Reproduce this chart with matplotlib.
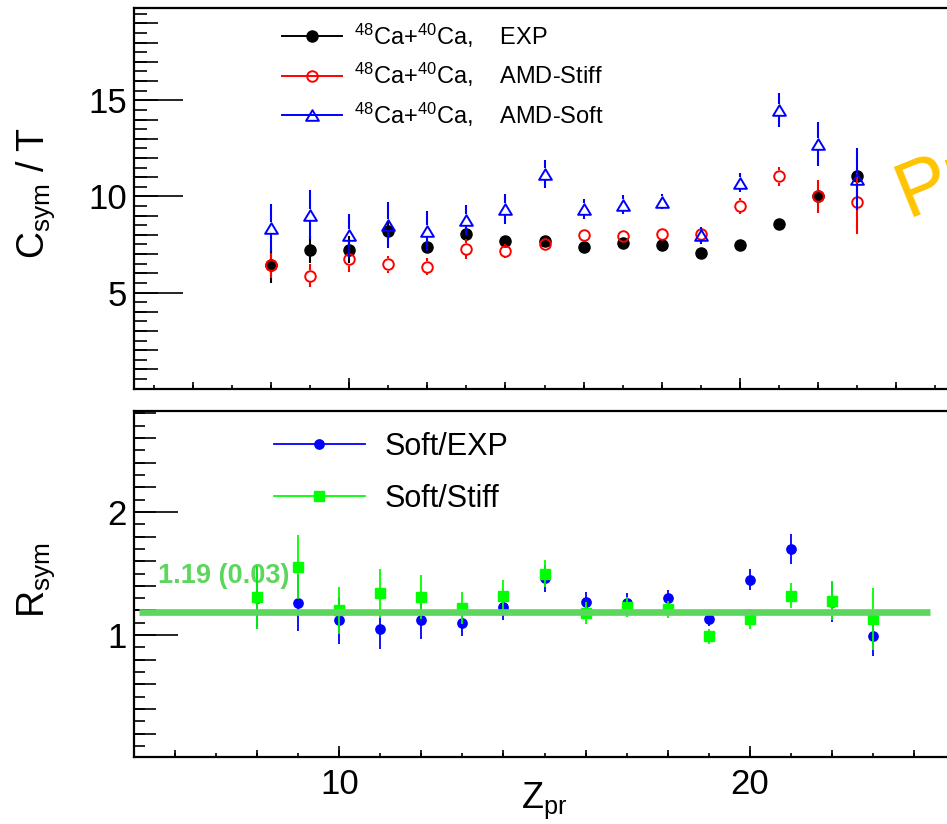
import numpy as np
import matplotlib
matplotlib.use("Agg")
import matplotlib.pyplot as plt
from matplotlib.ticker import MultipleLocator, NullFormatter
from matplotlib.lines import Line2D
from matplotlib.path import Path

plt.rcParams['font.family'] = ['Liberation Sans', 'DejaVu Sans']
plt.rcParams['mathtext.fontset'] = 'custom'
plt.rcParams['mathtext.rm'] = 'Liberation Sans'
plt.rcParams['mathtext.it'] = 'Liberation Sans:italic'
plt.rcParams['mathtext.bf'] = 'Liberation Sans:bold'
plt.rcParams['mathtext.default'] = 'regular'

# ---------------- data ----------------
z_pr = [8, 9, 10, 11, 12, 13, 14, 15, 16, 17, 18, 19, 20, 21, 22, 23]

csym_exp = [6.41, 7.22, 7.22, 8.21, 7.39, 8.04, 7.66, 7.69,
            7.39, 7.60, 7.46, 7.05, 7.46, 8.54, 10.00, 11.07]
csym_exp_err = [0.90, 0.70, 0.70, 0.50, 0.35, 0.25, 0.15, 0.15,
                0.12, 0.12, 0.12, 0.12, 0.12, 0.15, 0.30, 0.30]

csym_stiff = [6.41, 5.87, 6.72, 6.46, 6.34, 7.26, 7.15, 7.53,
              7.98, 7.92, 8.07, 8.07, 9.51, 11.04, 10.00, 9.69]
csym_stiff_err = [0.65, 0.60, 0.65, 0.45, 0.45, 0.50, 0.35, 0.20,
                  0.20, 0.20, 0.20, 0.20, 0.40, 0.50, 0.88, 1.65]

csym_soft = [8.35, 9.05, 7.98, 8.50, 8.21, 8.78, 9.37, 11.18,
             9.34, 9.56, 9.72, 7.98, 10.71, 14.49, 12.72, 10.90]
csym_soft_err = [1.25, 1.26, 1.13, 1.20, 1.04, 0.78, 0.78, 0.72,
                 0.52, 0.49, 0.40, 0.45, 0.50, 0.87, 1.15, 1.60]

rsym_soft_exp = [1.30, 1.26, 1.12, 1.05, 1.12, 1.10, 1.23, 1.46,
                 1.27, 1.26, 1.30, 1.13, 1.45, 1.70, 1.27, 0.99]
rsym_soft_exp_err = [0.25, 0.23, 0.19, 0.16, 0.15, 0.11, 0.11, 0.11,
                     0.08, 0.08, 0.07, 0.06, 0.085, 0.12, 0.16, 0.16]

rsym_soft_stiff = [1.31, 1.55, 1.20, 1.34, 1.31, 1.22, 1.32, 1.50,
                   1.18, 1.23, 1.21, 0.99, 1.13, 1.32, 1.28, 1.13]
rsym_soft_stiff_err = [0.26, 0.26, 0.19, 0.20, 0.18, 0.13, 0.13, 0.11,
                       0.09, 0.08, 0.07, 0.06, 0.08, 0.10, 0.16, 0.25]

fit_value = 1.19
fit_error = 0.03
fit_range = [5.12, 24.4]

legend_top = [r"$^{48}$Ca+$^{40}$Ca,    EXP",
              r"$^{48}$Ca+$^{40}$Ca,    AMD-Stiff",
              r"$^{48}$Ca+$^{40}$Ca,    AMD-Soft"]
legend_bot = ["Soft/EXP", "Soft/Stiff"]

# ---------------- style ----------------
BLUE = "#0000ff"
RED = "#ff0000"
GREEN = "#00ff00"
FIT_GREEN = "#5cd65c"
ORANGE = "#ffc400"

tri_path = Path([(-1, -0.83), (1, -0.83), (0, 0.83), (-1, -0.83)],
                [Path.MOVETO, Path.LINETO, Path.LINETO, Path.CLOSEPOLY])

W, H = 947, 824
fig = plt.figure(figsize=(W / 100, H / 100), dpi=100)
ax_top = fig.add_axes([134 / W, 1 - 388.5 / H, 821 / W, 380.5 / H])
ax_bot = fig.add_axes([134 / W, 1 - 757 / H, 821 / W, 346 / H])

ax_top.set_xlim(4.5, 25.5)
ax_top.set_ylim(0.01, 19.8)
ax_bot.set_xlim(5.0, 25.0)
ax_bot.set_ylim(0.01, 2.82)


def style_axes(ax, ymaj, ymed, ymin, ylen, show_xlabels):
    for s in ax.spines.values():
        s.set_linewidth(1.6)
    ax.spines['right'].set_visible(False)
    ax.xaxis.set_major_locator(MultipleLocator(10))
    ax.xaxis.set_minor_locator(MultipleLocator(1))
    ax.yaxis.set_major_locator(MultipleLocator(ymaj))
    ax.yaxis.set_minor_locator(MultipleLocator(ymin))
    ax.tick_params(axis='y', which='major', direction='in', length=ylen[0],
                   width=1.2, labelsize=25, pad=5, right=False)
    ax.tick_params(axis='y', which='minor', direction='in', length=ylen[2],
                   width=1.2, right=False)
    ax.tick_params(axis='x', which='major', direction='in', length=8,
                   width=1.2, labelsize=25, pad=8, top=False,
                   labelbottom=show_xlabels)
    ax.tick_params(axis='x', which='minor', direction='in', length=3,
                   width=1.2, top=False)
    # intermediate tick level
    sy = ax.secondary_yaxis('left')
    sy.yaxis.set_major_locator(MultipleLocator(ymed))
    sy.yaxis.set_major_formatter(NullFormatter())
    sy.tick_params(direction='in', length=ylen[1], width=1.2)
    sy.spines['left'].set_visible(False)
    sx = ax.secondary_xaxis('bottom')
    sx.xaxis.set_major_locator(MultipleLocator(2))
    sx.xaxis.set_major_formatter(NullFormatter())
    sx.tick_params(direction='in', length=5, width=1.2)
    sx.spines['bottom'].set_visible(False)


style_axes(ax_top, 5, 1, 0.5, (35, 17, 9), False)
style_axes(ax_bot, 1, 0.2, 0.1, (32, 16, 8), True)


def gapped_bars(ax, x, y, err, gap_px, color, lw, zorder):
    x, y, err = np.asarray(x, float), np.asarray(y, float), np.asarray(err, float)
    y0, y1 = ax.get_ylim()
    gap = gap_px * (y1 - y0) / ax.bbox.height
    m = err > gap
    ax.vlines(x[m], y[m] + gap, y[m] + err[m], color=color, lw=lw, zorder=zorder)
    ax.vlines(x[m], y[m] - err[m], y[m] - gap, color=color, lw=lw, zorder=zorder)


# ---------------- upper panel: C_sym / T ----------------
gapped_bars(ax_top, z_pr, csym_exp, csym_exp_err, 0, 'black', 1.5, 3)
ax_top.plot(z_pr, csym_exp, 'o', color='black', ms=8.0, zorder=4)
gapped_bars(ax_top, z_pr, csym_stiff, csym_stiff_err, 6.2, RED, 1.5, 5)
ax_top.plot(z_pr, csym_stiff, 'o', mfc='none', mec=RED, mew=1.4, ms=7.6, zorder=6)
gapped_bars(ax_top, z_pr, csym_soft, csym_soft_err, 6.0, BLUE, 1.5, 7)
ax_top.plot(z_pr, csym_soft, linestyle='none', marker=tri_path, mfc='none',
            mec=BLUE, mew=1.4, ms=9.2, zorder=8)

handles_top = [
    Line2D([], [], color='black', lw=1.4, marker='o', ms=8.0),
    Line2D([], [], color=RED, lw=1.4, marker='o', mfc='none', mec=RED, mew=1.4, ms=7.6),
    Line2D([], [], color=BLUE, lw=1.4, marker=tri_path, mfc='none', mec=BLUE, mew=1.4, ms=9.2),
]
ax_top.legend(handles_top, legend_top, loc='upper left', bbox_to_anchor=(0.180, 0.965),
              frameon=False, fontsize=17, handlelength=2.55, handletextpad=0.52,
              labelspacing=0.48, borderpad=0, borderaxespad=0)

ax_top.set_ylabel(r"C$_{sym}$ / T", fontsize=27)
ax_top.yaxis.set_label_coords(-0.094, 0.515)

ax_top.text(24.3, 8.9, "Preliminary", color=ORANGE, fontsize=56, rotation=22,
            rotation_mode='anchor', ha='left', va='baseline', clip_on=False)

# ---------------- lower panel: R_sym ----------------
ax_bot.errorbar(z_pr, rsym_soft_exp, yerr=rsym_soft_exp_err, fmt='o', color=BLUE,
                ms=6.7, elinewidth=1.3, capsize=0, zorder=3)
ax_bot.errorbar(z_pr, rsym_soft_stiff, yerr=rsym_soft_stiff_err, fmt='s', color=GREEN,
                ms=7.2, elinewidth=1.3, capsize=0, zorder=4)
ax_bot.hlines(fit_value, fit_range[0], fit_range[1], color=FIT_GREEN, lw=4.8, zorder=5)
ax_bot.text(5.58, 1.42, f"{fit_value:.2f} ({fit_error:.2f})", color=FIT_GREEN,
            fontsize=19.5, fontweight='bold', ha='left', va='baseline', zorder=1)

handles_bot = [
    Line2D([], [], color=BLUE, lw=1.3, marker='o', ms=6.7),
    Line2D([], [], color=GREEN, lw=1.3, marker='s', ms=7.2),
]
ax_bot.legend(handles_bot, legend_bot, loc='upper left', bbox_to_anchor=(0.170, 0.94),
              frameon=False, fontsize=22, handlelength=3.0, handletextpad=0.62,
              labelspacing=0.72, borderpad=0, borderaxespad=0)

ax_bot.set_ylabel(r"R$_{sym}$", fontsize=27)
ax_bot.yaxis.set_label_coords(-0.094, 0.51)
ax_bot.set_xlabel(r"Z$_{pr}$", fontsize=26, labelpad=-15)

fig.savefig("out.png", dpi=100)
